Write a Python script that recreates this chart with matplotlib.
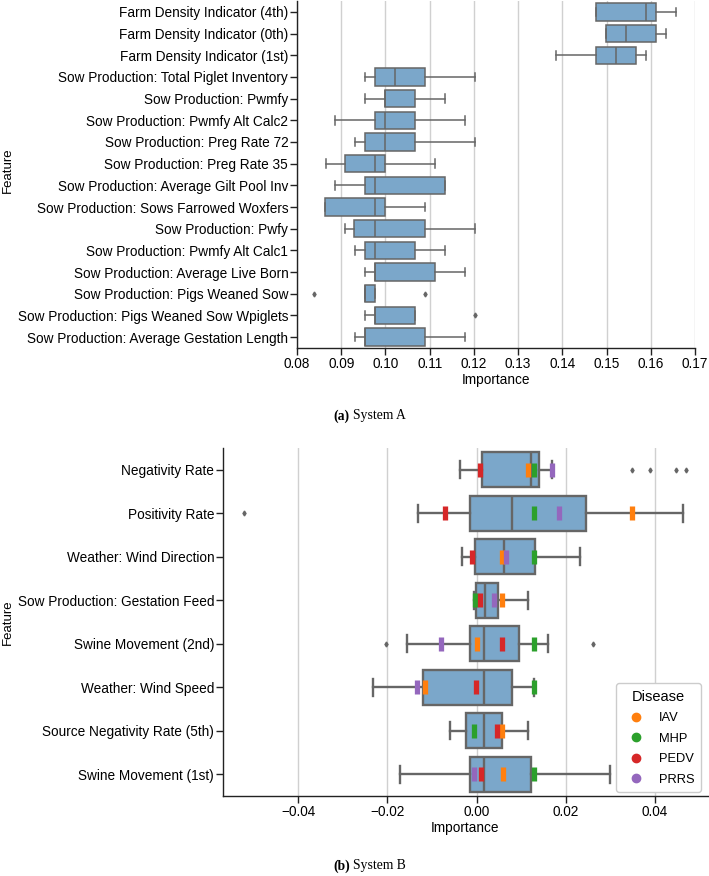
import numpy as np
import matplotlib
matplotlib.use('Agg')
import matplotlib.pyplot as plt
from matplotlib.lines import Line2D

# System A: feature importance box statistics.
features_a = ['Farm Density Indicator (4th)', 'Farm Density Indicator (0th)',
              'Farm Density Indicator (1st)', 'Sow Production: Total Piglet Inventory',
              'Sow Production: Pwmfy', 'Sow Production: Pwmfy Alt Calc2',
              'Sow Production: Preg Rate 72', 'Sow Production: Preg Rate 35',
              'Sow Production: Average Gilt Pool Inv', 'Sow Production: Sows Farrowed Woxfers',
              'Sow Production: Pwfy', 'Sow Production: Pwmfy Alt Calc1',
              'Sow Production: Average Live Born', 'Sow Production: Pigs Weaned Sow',
              'Sow Production: Pigs Weaned Sow Wpiglets',
              'Sow Production: Average Gestation Length']
whislo_a = [0.1475, 0.1498, 0.1385, 0.0953, 0.0953, 0.0886, 0.0931, 0.0865,
            0.0886, 0.0863, 0.0908, 0.0931, 0.0953, 0.0953, 0.0953, 0.0931]
q1_a = [0.1475, 0.1498, 0.1475, 0.0976, 0.0999, 0.0976, 0.0953, 0.0908,
        0.0953, 0.0863, 0.0929, 0.0953, 0.0976, 0.0953, 0.0976, 0.0953]
med_a = [0.1589, 0.1543, 0.1521, 0.1022, 0.0999, 0.0999, 0.0999, 0.0976,
         0.0976, 0.0976, 0.0976, 0.0976, 0.0976, 0.0953, 0.0976, 0.0953]
q3_a = [0.1612, 0.1612, 0.1566, 0.1090, 0.1067, 0.1067, 0.1067, 0.0999,
        0.1135, 0.0999, 0.1090, 0.1067, 0.1113, 0.0976, 0.1067, 0.1090]
whishi_a = [0.1657, 0.1634, 0.1589, 0.1203, 0.1135, 0.1180, 0.1203, 0.1113,
            0.1135, 0.1090, 0.1203, 0.1135, 0.1180, 0.0976, 0.1067, 0.1180]
fliers_a = [[], [], [], [], [], [], [], [], [], [], [], [], [],
            [0.0839, 0.1089], [0.1203], []]
ticks_a = [0.08, 0.09, 0.10, 0.11, 0.12, 0.13, 0.14, 0.15, 0.16, 0.17]

# System B: box statistics plus per-disease importances.
features_b = ['Negativity Rate', 'Positivity Rate', 'Weather: Wind Direction',
              'Sow Production: Gestation Feed', 'Swine Movement (2nd)',
              'Weather: Wind Speed', 'Source Negativity Rate (5th)',
              'Swine Movement (1st)']
whislo_b = [-0.0037, -0.0131, -0.0032, -0.0007, -0.0157, -0.0232, -0.0060, -0.0171]
q1_b = [0.0013, -0.0016, -0.0004, -0.0001, -0.0015, -0.0121, -0.0024, -0.0015]
med_b = [0.0122, 0.0079, 0.0062, 0.0019, 0.0016, 0.0016, 0.0016, 0.0016]
q3_b = [0.0140, 0.0245, 0.0130, 0.0048, 0.0096, 0.0079, 0.0056, 0.0123]
whishi_b = [0.0169, 0.0464, 0.0232, 0.0115, 0.0161, 0.0129, 0.0116, 0.0299]
fliers_b = [[0.0349, 0.0388, 0.0448, 0.0469], [-0.0523], [], [],
            [-0.0204, 0.0261], [], [], []]
ticks_b = [-0.04, -0.02, 0.0, 0.02, 0.04]

diseases = ['IAV', 'MHP', 'PEDV', 'PRRS']
disease_colors = ['#ff7f0e', '#2ca02c', '#d62728', '#9467bd']
iav = [0.0115, 0.0348, 0.0056, 0.0058, 0.0000, -0.0116, 0.0057, 0.0060]
mhp = [0.0128, 0.0128, 0.0128, -0.0004, 0.0129, 0.0129, -0.0007, 0.0128]
pedv = [0.0008, -0.0071, -0.0010, 0.0007, 0.0057, -0.0001, 0.0046, 0.0010]
prrs = [0.0169, 0.0185, 0.0065, 0.0040, -0.0079, -0.0133, np.nan, -0.0007]

BOX_COLOR = '#7ba7ca'
EDGE_COLOR = '#666666'
GRID_COLOR = '#d0d0d0'
FS = 9.8

plt.rcParams['font.family'] = ['Liberation Sans', 'DejaVu Sans']
plt.rcParams['axes.unicode_minus'] = True


def make_stats(lo, q1, med, q3, hi, fliers):
    return [dict(whislo=a, q1=b, med=c, q3=d, whishi=e, fliers=f)
            for a, b, c, d, e, f in zip(lo, q1, med, q3, hi, fliers)]


def draw_boxes(ax, stats, lw, flier_ms):
    ax.bxp(stats, positions=np.arange(len(stats)), vert=False, widths=0.8,
           patch_artist=True, manage_ticks=False,
           boxprops=dict(facecolor=BOX_COLOR, edgecolor=EDGE_COLOR, linewidth=lw),
           medianprops=dict(color=EDGE_COLOR, linewidth=lw),
           whiskerprops=dict(color=EDGE_COLOR, linewidth=lw),
           capprops=dict(color=EDGE_COLOR, linewidth=lw),
           flierprops=dict(marker='d', markersize=flier_ms,
                           markerfacecolor=EDGE_COLOR, markeredgecolor=EDGE_COLOR))


def style_axes(ax, labels, ticks, ticklabels):
    ax.set_yticks(np.arange(len(labels)))
    ax.set_yticklabels(labels, fontsize=FS)
    ax.set_ylim(len(labels) - 0.5, -0.5)
    ax.set_xticks(ticks)
    ax.set_xticklabels(ticklabels, fontsize=FS)
    ax.spines['top'].set_visible(False)
    ax.spines['right'].set_visible(False)
    for s in ('left', 'bottom'):
        ax.spines[s].set_color('#222222')
        ax.spines[s].set_linewidth(1.0)
    ax.tick_params(axis='both', length=4.8, width=1.0, color='#222222', pad=1.5)
    ax.xaxis.grid(True, color=GRID_COLOR, linewidth=1.0)
    ax.set_axisbelow(True)
    ax.set_xlabel('Importance', fontsize=FS, labelpad=1.5)


fig = plt.figure(figsize=(7.09, 8.76), dpi=100)

# (a) System A
ax1 = fig.add_axes([297 / 709, 1 - 348 / 876, 398 / 709, 347 / 876])
draw_boxes(ax1, make_stats(whislo_a, q1_a, med_a, q3_a, whishi_a, fliers_a), 1.1, 2.5)
ax1.set_xlim(0.08, 0.17)
style_axes(ax1, features_a, ticks_a, [f'{v:.2f}' for v in ticks_a])

# (b) System B
ax2 = fig.add_axes([223 / 709, 1 - 796 / 876, 485 / 709, 348 / 876])
draw_boxes(ax2, make_stats(whislo_b, q1_b, med_b, q3_b, whishi_b, fliers_b), 1.7, 2.5)
ypos = np.arange(len(features_b))
for vals, col in zip([iav, mhp, pedv, prrs], disease_colors):
    ax2.plot(vals, ypos, linestyle='none', marker='|', markersize=9.5,
             markeredgewidth=3.8, color=col, zorder=4)
ax2.set_xlim(-0.0569, 0.0519)
style_axes(ax2, features_b, ticks_b,
           [f'{v:.2f}'.replace('-', '\u2212') for v in ticks_b])

handles = [Line2D([], [], marker='o', linestyle='none', color=c, markersize=6)
           for c in disease_colors]
ax2.legend(handles, diseases, title='Disease', loc='lower right',
           bbox_to_anchor=(701 / 485 - 223 / 485, 4 / 348), borderaxespad=0,
           fontsize=9.3, title_fontsize=10.5, handletextpad=0.8,
           labelspacing=0.65, borderpad=0.5, framealpha=1.0, edgecolor='#cccccc')

# y-axis labels placed in figure pixels
fig.text(8 / 709, 1 - 170 / 876, 'Feature', rotation=90, ha='center',
         va='center', fontsize=9.5)
fig.text(8 / 709, 1 - 622 / 876, 'Feature', rotation=90, ha='center',
         va='center', fontsize=9.5)

# Captions
cap = dict(family=['Liberation Serif', 'DejaVu Serif'], fontsize=9.8, va='center')
fig.text(350 / 709, 1 - 416 / 876, '(a)', ha='right', fontweight='bold', **cap)
fig.text(353 / 709, 1 - 416 / 876, 'System A', ha='left', **cap)
fig.text(350 / 709, 1 - 866 / 876, '(b)', ha='right', fontweight='bold', **cap)
fig.text(353 / 709, 1 - 866 / 876, 'System B', ha='left', **cap)

fig.savefig('out.png', dpi=100)
